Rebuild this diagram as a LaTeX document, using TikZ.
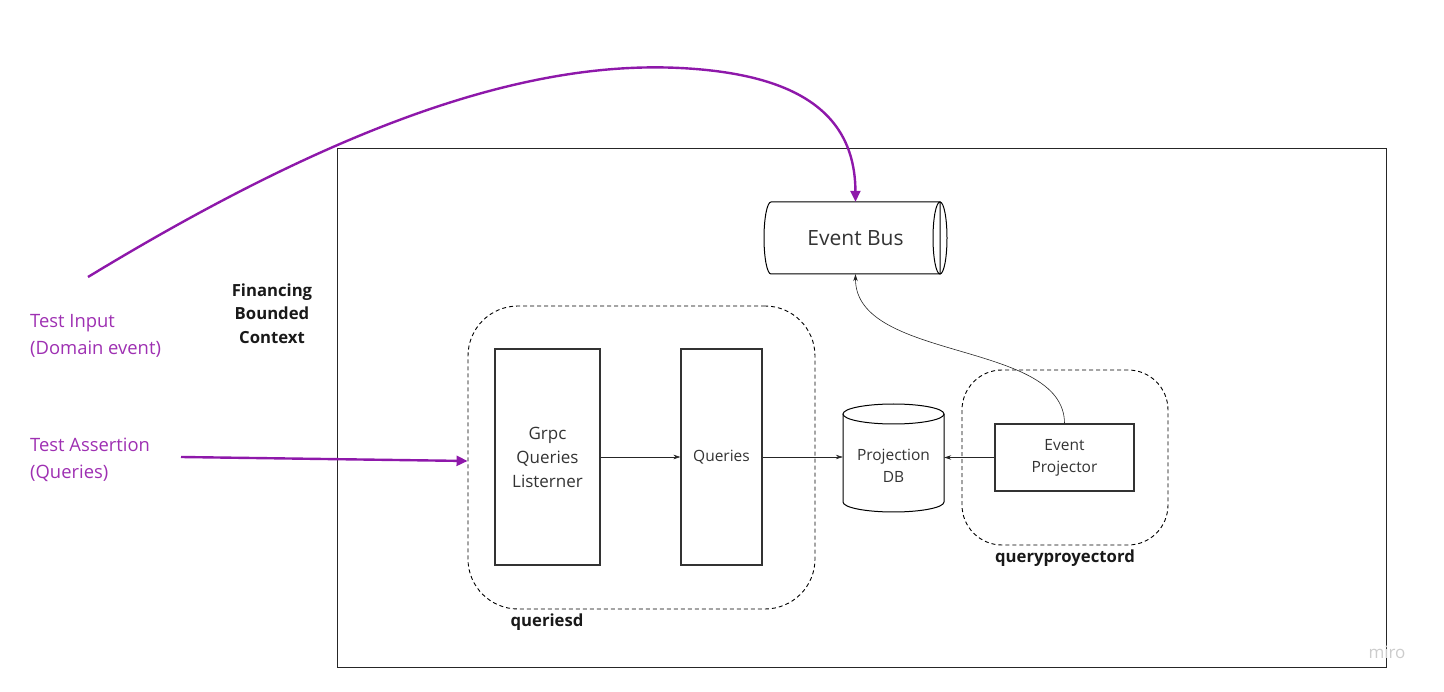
\documentclass[tikz,border=0pt]{standalone}
\usepackage{fontspec}
\setmainfont{Open Sans}
\usetikzlibrary{arrows.meta}
\definecolor{pline}{RGB}{142,24,170}
\definecolor{ptext}{RGB}{158,48,178}
\definecolor{tgray}{RGB}{51,51,51}
\tikzset{
  box/.style={draw=tgray, line width=1.1pt, inner sep=0pt, text=tgray, align=center},
  grp/.style={draw=black, line width=0.9pt, dash pattern=on 4pt off 3pt, inner sep=0pt},
  arr/.style={draw=black!85, line width=0.6pt, -{Stealth[length=7pt,width=4.5pt]}},
  parr/.style={draw=pline, line width=2.4pt, -{Triangle[length=11pt,width=10pt]}},
  lbl/.style={font=\bfseries\fontsize{16.7}{23.5}\selectfont, text=black!90, align=center, inner sep=0pt},
  plbl/.style={font=\fontsize{18.4}{27}\selectfont, text=ptext, align=left, inner sep=0pt, anchor=west}
}
\begin{document}
\begin{tikzpicture}[x=1pt,y=-1pt]
\useasboundingbox (0,0) rectangle (1444,692);
% outer context box
\node[draw=black!85, line width=1.1pt, minimum width=1049pt, minimum height=519pt, inner sep=0pt, anchor=north west] (ctx) at (337,148) {};
\node[lbl] (fin) at (272,313.5) {Financing\\Bounded\\Context};
% groups
\node[grp, rounded corners=50pt, minimum width=347pt, minimum height=303pt] (qd) at (641.5,457.5) {};
\node[lbl] (qdl) at (547,622) {queriesd};
\node[grp, rounded corners=40pt, minimum width=206pt, minimum height=175pt] (qp) at (1065,457.5) {};
\node[lbl] (qpl) at (1065,558) {queryproyectord};
% boxes
\node[box, minimum width=105pt, minimum height=216pt, font=\fontsize{17}{24}\selectfont] (grpc) at (547.5,457) {Grpc\\Queries\\Listerner};
\node[box, minimum width=81pt, minimum height=216pt, font=\fontsize{15.5}{22}\selectfont] (q) at (721.5,457) {Queries};
\node[box, minimum width=139pt, minimum height=67pt, font=\fontsize{15.5}{22}\selectfont] (ep) at (1064.5,457.5) {Event\\Projector};
% Event Bus cylinder (horizontal)
\node[inner sep=0pt, minimum width=183pt, minimum height=72pt] (bus) at (855.5,238) {};
\draw[draw=black, line width=1pt, fill=white] (771,202) -- (940,202) -- (940,274) -- (771,274) arc[start angle=270, end angle=90, x radius=7pt, y radius=36pt] -- cycle;
\draw[draw=black, line width=1pt] (940,238) ellipse[x radius=7pt, y radius=36pt];
\node[inner sep=0pt, text=tgray, font=\fontsize{21}{24}\selectfont] (bust) at (855.5,238) {Event Bus};
% Projection DB cylinder (vertical)
\node[inner sep=0pt, minimum width=101pt, minimum height=108pt] (db) at (893.5,458) {};
\draw[draw=black, line width=1pt, fill=white] (843,414) -- (843,502) arc[start angle=180, end angle=360, x radius=50.5pt, y radius=10pt] -- (944,414);
\draw[draw=black, line width=1pt, fill=white] (893.5,414) ellipse[x radius=50.5pt, y radius=10pt];
\node[inner sep=0pt, text=tgray, align=center, font=\fontsize{15.5}{22}\selectfont] (dbt) at (893.5,466) {Projection\\DB};
% connectors
\draw[arr] (grpc.east) -- (q.west);
\draw[arr] (q.east) -- (db.west |- q.east);
\draw[arr] (ep.west) -- (db.east |- ep.west);
\draw[arr] (ep.north) .. controls (1064.5,340) and (855,362) .. (bus.south);
% test labels
\node[plbl] (ti) at (30,335.5) {Test Input\\(Domain event)};
\node[plbl] (ta) at (30,459.5) {Test Assertion\\(Queries)};
\coordinate (tis) at (88,277);
\coordinate (tas) at (181,457);
\draw[parr] (tis) .. controls (330,130) and (520,60) .. (680,68) .. controls (800,74) and (855,115) .. (bus.north);
\draw[parr] (tas) -- ([yshift=-3.5pt]qd.west);
% watermark
\node[inner sep=0pt, text=black!20, font=\fontsize{17}{20}\selectfont] (miro) at (1387,652) {miro};
\end{tikzpicture}
\end{document}
